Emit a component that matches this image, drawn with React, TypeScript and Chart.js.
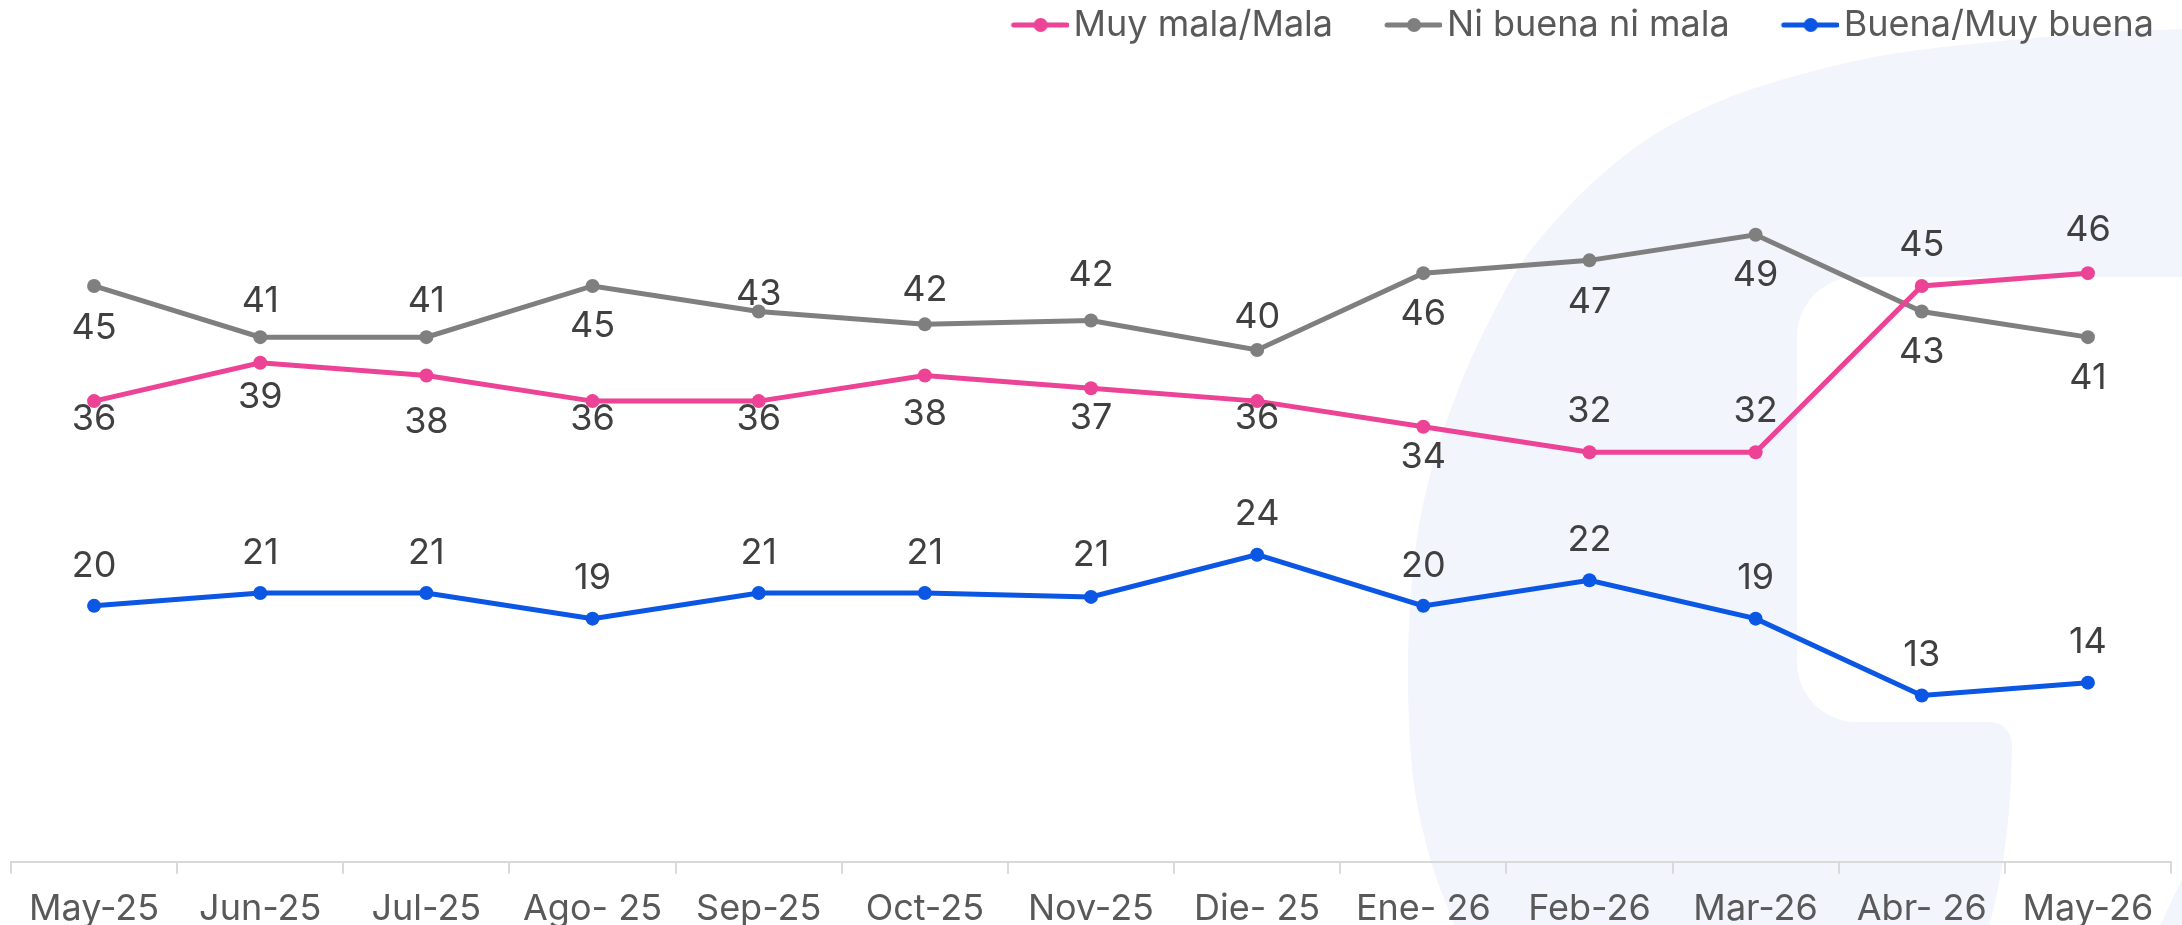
import React, { useEffect, useRef } from 'react';
import { Chart, registerables } from 'chart.js';

Chart.register(...registerables);

// ---------- data ----------
const categories = ['May-25', 'Jun-25', 'Jul-25', 'Ago- 25', 'Sep-25', 'Oct-25', 'Nov-25', 'Die- 25', 'Ene- 26', 'Feb-26', 'Mar-26', 'Abr- 26', 'May-26'];
const seriesNames = ['Muy mala/Mala', 'Ni buena ni mala', 'Buena/Muy buena'];
const muyMalaMala = [36, 39, 38, 36, 36, 38, 37, 36, 34, 32, 32, 45, 46];
const niBuenaNiMala = [45, 41, 41, 45, 43, 42, 42.3, 40, 46, 47, 49, 43, 41];
const buenaMuyBuena = [20, 21, 21, 19, 21, 21, 20.7, 24, 20, 22, 19, 13, 14];
const yMin = 0;
const yMax = 60;

// ---------- label placement (px from point, + = below) ----------
const pinkLabelOffsets = [18, 34, 47, 18, 18, 39, 30, 17, 30, -41, -41, -41, -43];
const grayLabelOffsets = [42, -36, -36, 40, -17, -34, -45, -33, 41, 42, 40, 41, 41];
const blueLabelOffsets = [-40, -40, -40, -40, -40, -40, -42, -41, -40, -40, -40, -40, -40];

// ---------- styles ----------
const PINK = '#EC4396';
const GRAY = '#7F7F7F';
const BLUE = '#0B57E3';
const FONT = 'Inter';
const FONT_SIZE = 36;
const LEGEND_BOX = 89;
const CANVAS_H = 945;

// background watermark outline (decoration only)
const markOutline: [number, number][] = [
  [2230, 26], [2182, 29], [2096, 33], [1991, 42], [1891, 54], [1810, 72], [1738, 94], [1680, 120],
  [1636, 147], [1590, 185], [1549, 228], [1520, 265], [1498, 304], [1475, 350], [1457, 393],
  [1440, 440], [1426, 491], [1416, 545], [1410, 610], [1408, 690], [1414, 785], [1432, 865],
  [1456, 930], [1472, 990],
];

function makeLegendMarker(color: string): HTMLCanvasElement {
  const c = document.createElement('canvas');
  const w = LEGEND_BOX + 26;
  c.width = w;
  c.height = 20;
  const ctx = c.getContext('2d')!;
  ctx.strokeStyle = color;
  ctx.lineWidth = 5;
  ctx.lineCap = 'round';
  ctx.beginPath();
  ctx.moveTo(w - 55, 10);
  ctx.lineTo(w - 2, 10);
  ctx.stroke();
  ctx.fillStyle = color;
  ctx.beginPath();
  ctx.arc(w - 28, 10, 7, 0, Math.PI * 2);
  ctx.fill();
  return c;
}

function splinePath(ctx: CanvasRenderingContext2D, pts: [number, number][]) {
  ctx.moveTo(pts[0][0], pts[0][1]);
  for (let i = 0; i < pts.length - 1; i++) {
    const p0 = pts[Math.max(0, i - 1)];
    const p1 = pts[i];
    const p2 = pts[i + 1];
    const p3 = pts[Math.min(pts.length - 1, i + 2)];
    ctx.bezierCurveTo(
      p1[0] + (p2[0] - p0[0]) / 6, p1[1] + (p2[1] - p0[1]) / 6,
      p2[0] - (p3[0] - p1[0]) / 6, p2[1] - (p3[1] - p1[1]) / 6,
      p2[0], p2[1]
    );
  }
}

const bgPlugin = {
  id: 'bgMark',
  beforeDraw(chart: any) {
    const { ctx, width, height } = chart;
    ctx.save();
    ctx.fillStyle = '#FFFFFF';
    ctx.fillRect(0, 0, width, height);
    // outer lavender shape
    ctx.fillStyle = '#F3F5FD';
    ctx.beginPath();
    splinePath(ctx, markOutline);
    ctx.lineTo(2400, 1000);
    ctx.lineTo(2400, 0);
    ctx.closePath();
    ctx.fill();
    // inner white cut-out
    ctx.fillStyle = '#FFFFFF';
    const R = 60;
    const r2 = 22;
    ctx.beginPath();
    ctx.moveTo(width + 10, 277);
    ctx.lineTo(1797 + R, 277);
    ctx.arcTo(1797, 277, 1797, 277 + R, R);
    ctx.lineTo(1797, 722 - R);
    ctx.arcTo(1797, 722, 1797 + R, 722, R);
    ctx.lineTo(2012 - r2, 722);
    ctx.arcTo(2012, 722, 2012, 722 + r2, r2);
    ctx.quadraticCurveTo(2011, 850, 1988, 930);
    ctx.lineTo(2158, 930);
    ctx.lineTo(2190, 862);
    ctx.lineTo(width + 10, 277);
    ctx.closePath();
    ctx.fill();
    ctx.restore();
  },
};

const legendLayoutPlugin = {
  id: 'legendLayout',
  beforeInit(chart: any) {
    const legend = chart.legend;
    if (!legend) return;
    const orig = legend.fit;
    legend.fit = function () {
      orig.call(this);
      this.height = 94;
    };
  },
  afterLayout(chart: any) {
    const legend = chart.legend;
    if (!legend) return;
    legend.left -= 10;
    legend.right -= 10;
  },
};

const labelsPlugin = {
  id: 'pointLabels',
  afterDatasetsDraw(chart: any) {
    const { ctx } = chart;
    const offsets = [pinkLabelOffsets, grayLabelOffsets, blueLabelOffsets];
    ctx.save();
    ctx.font = `${FONT_SIZE}px ${FONT}`;
    ctx.fillStyle = '#404040';
    ctx.textAlign = 'center';
    ctx.textBaseline = 'middle';
    chart.data.datasets.forEach((ds: any, i: number) => {
      const meta = chart.getDatasetMeta(i);
      meta.data.forEach((el: any, j: number) => {
        const v = ds.data[j];
        ctx.fillText(String(Math.round(v)), el.x, el.y + offsets[i][j]);
      });
    });
    ctx.restore();
  },
};

export default function App() {
  const ref = useRef<HTMLCanvasElement | null>(null);

  useEffect(() => {
    if (!ref.current) return;
    const markers = [makeLegendMarker(PINK), makeLegendMarker(GRAY), makeLegendMarker(BLUE)];
    const colors = [PINK, GRAY, BLUE];
    const values = [muyMalaMala, niBuenaNiMala, buenaMuyBuena];
    const chart = new Chart(ref.current, {
      type: 'line',
      data: {
        labels: categories,
        datasets: values.map((d, i) => ({
          label: seriesNames[i],
          data: d,
          borderColor: colors[i],
          backgroundColor: colors[i],
          borderWidth: 5,
          pointRadius: 7,
          pointHoverRadius: 7,
          pointBorderWidth: 0,
          tension: 0,
          fill: false,
        })),
      },
      options: {
        animation: false,
        responsive: true,
        maintainAspectRatio: false,
        layout: { padding: { left: 11, right: 11, top: 0, bottom: 0 } },
        font: { family: FONT, size: FONT_SIZE },
        plugins: {
          tooltip: { enabled: false },
          legend: {
            position: 'top',
            align: 'end',
            labels: {
              usePointStyle: true,
              pointStyleWidth: LEGEND_BOX,
              padding: 7,
              color: '#595959',
              font: { family: FONT, size: FONT_SIZE },
              generateLabels: () =>
                seriesNames.map((n, i) => ({
                  text: n,
                  fillStyle: colors[i],
                  strokeStyle: colors[i],
                  lineWidth: 0,
                  pointStyle: markers[i],
                  hidden: false,
                  datasetIndex: i,
                  fontColor: '#595959',
                })),
            },
          },
        },
        scales: {
          x: {
            type: 'category',
            offset: true,
            grid: {
              offset: true,
              drawOnChartArea: false,
              drawTicks: true,
              tickLength: 12,
              color: '#D9D9D9',
              lineWidth: 2,
            },
            border: { display: true, color: '#D9D9D9', width: 2 },
            ticks: {
              color: '#595959',
              padding: 14,
              maxRotation: 0,
              autoSkip: false,
              font: { family: FONT, size: FONT_SIZE },
            },
          },
          y: {
            display: false,
            min: yMin,
            max: yMax,
          },
        },
      },
      plugins: [bgPlugin, legendLayoutPlugin, labelsPlugin],
    });
    return () => chart.destroy();
  }, []);

  return (
    <div style={{ position: 'fixed', left: 0, top: 0, width: 2182, height: CANVAS_H, background: '#fff' }}>
      <canvas ref={ref} />
    </div>
  );
}
